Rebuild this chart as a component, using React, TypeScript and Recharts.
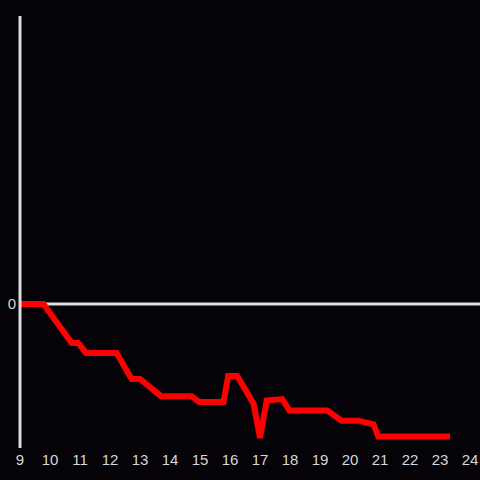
import { LineChart, Line, XAxis, YAxis, ReferenceLine } from "recharts";

const hours = [9, 9.78, 10.72, 10.94, 11.2, 12.22, 12.72, 13.0, 13.7, 14.72, 14.97, 15.78, 15.94, 16.24, 16.78, 17.0, 17.22, 17.74, 17.98, 19.24, 19.72, 20.28, 20.78, 20.94, 23.33];
const values = [0, 0, -27, -27, -34, -34, -52, -52, -64, -64, -68, -68, -50, -50, -69, -93, -67, -66, -74, -74, -81, -81, -83.5, -92, -92];
const xTicks = [9, 10, 11, 12, 13, 14, 15, 16, 17, 18, 19, 20, 21, 22, 23, 24];

const data = hours.map((h, i) => ({ hour: h, value: values[i] }));

export default function App() {
  return (
    <div
      style={{
        position: "fixed",
        left: 0,
        top: 0,
        width: 480,
        height: 480,
        background: "#050307",
        fontFamily: "Liberation Sans",
        fontSize: 15,
      }}
    >
      <LineChart width={480} height={480} data={data} margin={{ top: 16, right: 0, bottom: 0, left: 0 }}>
        <XAxis
          dataKey="hour"
          type="number"
          domain={[9, 24.33]}
          ticks={xTicks}
          axisLine={false}
          tickLine={false}
          tickMargin={0}
          height={32}
          fontSize={15}
          tick={{ fill: "#d8d8d8", fontSize: 15 }}
        />
        <YAxis
          type="number"
          domain={[-100, 200]}
          ticks={[0]}
          width={20}
          tickLine={false}
          tickSize={0}
          tickMargin={4}
          fontSize={15}
          axisLine={{ stroke: "#dddddd", strokeWidth: 3 }}
          tick={{ fill: "#d8d8d8", fontSize: 15 }}
        />
        <ReferenceLine y={0} stroke="#dddddd" strokeWidth={3} />
        <Line
          type="linear"
          dataKey="value"
          stroke="#ff0000"
          strokeWidth={6}
          dot={false}
          isAnimationActive={false}
        />
      </LineChart>
    </div>
  );
}
